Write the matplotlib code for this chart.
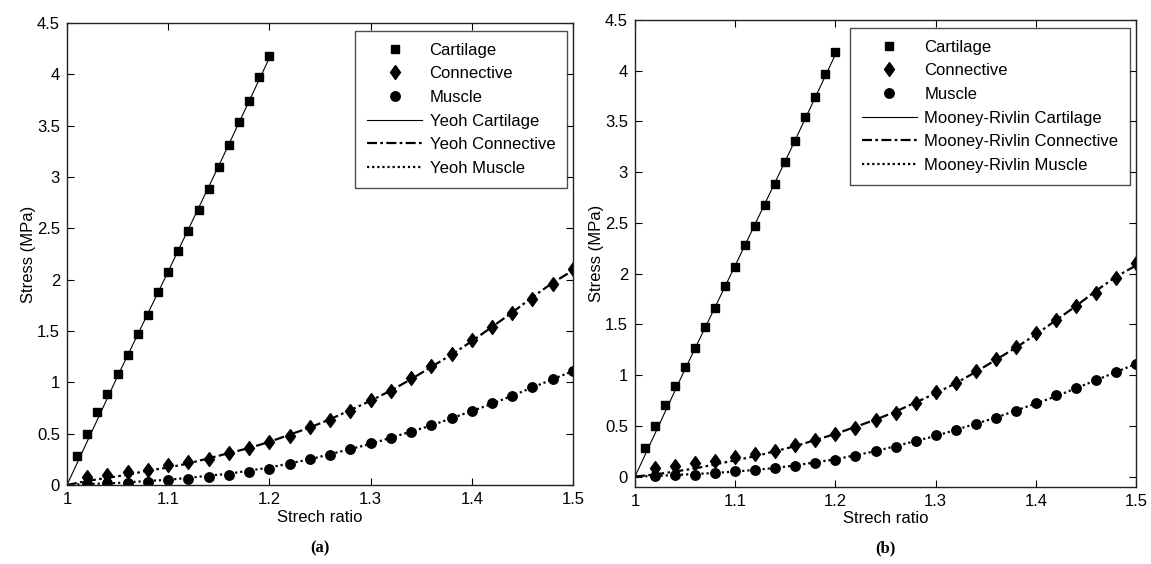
import numpy as np
import matplotlib
matplotlib.use("Agg")
import matplotlib.pyplot as plt
from matplotlib.ticker import FuncFormatter

plt.rcParams['font.family'] = ['Liberation Sans', 'DejaVu Sans']

# experimental data (same in both panels)
cart_x = [1.01, 1.02, 1.03, 1.04, 1.05, 1.06, 1.07, 1.08, 1.09, 1.10,
          1.11, 1.12, 1.13, 1.14, 1.15, 1.16, 1.17, 1.18, 1.19, 1.20]
cart_y = [0.28, 0.50, 0.71, 0.89, 1.08, 1.27, 1.47, 1.66, 1.88, 2.07,
          2.28, 2.47, 2.68, 2.88, 3.10, 3.31, 3.54, 3.74, 3.97, 4.18]

tis_x = [1.02, 1.04, 1.06, 1.08, 1.10, 1.12, 1.14, 1.16, 1.18, 1.20, 1.22, 1.24, 1.26,
         1.28, 1.30, 1.32, 1.34, 1.36, 1.38, 1.40, 1.42, 1.44, 1.46, 1.48, 1.50]
conn_y = [0.08, 0.10, 0.13, 0.15, 0.19, 0.22, 0.25, 0.31, 0.36, 0.42, 0.48, 0.56, 0.63,
          0.72, 0.83, 0.92, 1.04, 1.16, 1.28, 1.41, 1.54, 1.68, 1.81, 1.96, 2.10]
musc_y = [0.01, 0.02, 0.02, 0.03, 0.05, 0.06, 0.08, 0.10, 0.13, 0.16, 0.20, 0.25, 0.29,
          0.35, 0.41, 0.46, 0.52, 0.58, 0.65, 0.72, 0.80, 0.87, 0.95, 1.03, 1.11]

# fitted curves
fit_cx = [1.00, 1.05, 1.10, 1.15, 1.20]
fit_c = [0.0, 1.06, 2.08, 3.11, 4.16]

fit_x = [1.00, 1.02, 1.04, 1.06, 1.08, 1.10, 1.12, 1.14, 1.16, 1.18, 1.20, 1.22, 1.24, 1.26,
         1.28, 1.30, 1.32, 1.34, 1.36, 1.38, 1.40, 1.42, 1.44, 1.46, 1.48, 1.50]
yeoh_conn = [0.0, 0.04, 0.07, 0.10, 0.14, 0.17, 0.21, 0.26, 0.31, 0.36, 0.42, 0.49, 0.56,
             0.64, 0.73, 0.82, 0.92, 1.03, 1.15, 1.27, 1.40, 1.54, 1.68, 1.83, 1.97, 2.09]
yeoh_musc = [0.0, 0.01, 0.015, 0.025, 0.04, 0.05, 0.07, 0.09, 0.11, 0.14, 0.17, 0.21, 0.25,
             0.30, 0.35, 0.40, 0.46, 0.52, 0.58, 0.65, 0.72, 0.79, 0.87, 0.95, 1.03, 1.11]
mr_conn = [0.0, 0.02, 0.05, 0.08, 0.12, 0.16, 0.20, 0.25, 0.30, 0.36, 0.42, 0.49, 0.56,
           0.64, 0.73, 0.82, 0.92, 1.03, 1.15, 1.27, 1.40, 1.54, 1.68, 1.83, 1.97, 2.08]
mr_musc = [0.0, 0.005, 0.015, 0.025, 0.035, 0.05, 0.065, 0.085, 0.11, 0.14, 0.17, 0.21, 0.25,
           0.30, 0.35, 0.40, 0.46, 0.52, 0.58, 0.65, 0.72, 0.79, 0.87, 0.95, 1.03, 1.11]

panels = [
    ("Yeoh", yeoh_conn, yeoh_musc, (0.0, 4.5), [0.0582, 0.1401, 0.4396, 0.8191], "(a)"),
    ("Mooney-Rivlin", mr_conn, mr_musc, (-0.1, 4.5), [0.5517, 0.1371, 0.4353, 0.8274], "(b)"),
]

# MATLAB-style diamond (wider than matplotlib's 'd')
diamond = [(0, 1), (0.72, 0), (0, -1), (-0.72, 0), (0, 1)]

FS = 12
fig = plt.figure(figsize=(11.51, 5.64), dpi=100)

for model, fconn, fmusc, ylim, pos, tag in panels:
    ax = fig.add_axes(pos)
    ax.plot(cart_x, cart_y, 's', color='black', markersize=5.8, label='Cartilage')
    ax.plot(tis_x, conn_y, marker=diamond, linestyle='none', color='black',
            markersize=10, label='Connective')
    ax.plot(tis_x, musc_y, 'o', color='black', markersize=6.8, label='Muscle')
    ax.plot(fit_cx, fit_c, '-', color='black', lw=0.8, label=model + ' Cartilage')
    ax.plot(fit_x, fconn, color='black', lw=1.6, linestyle=(0, (4.5, 1.5, 1.2, 1.5)),
            label=model + ' Connective')
    ax.plot(fit_x, fmusc, color='black', lw=1.6, linestyle=(0, (1, 1.3)),
            label=model + ' Muscle')

    ax.set_xlim(1, 1.5)
    ax.set_ylim(*ylim)
    ax.set_xticks([1, 1.1, 1.2, 1.3, 1.4, 1.5])
    ax.set_yticks(np.arange(0, 4.51, 0.5))
    ax.xaxis.set_major_formatter(FuncFormatter(lambda v, p: '%g' % round(v, 2)))
    ax.yaxis.set_major_formatter(FuncFormatter(lambda v, p: '%g' % round(v, 2)))
    ax.tick_params(direction='in', top=True, right=True, length=5, width=0.8,
                   labelsize=FS, pad=5)
    for sp in ax.spines.values():
        sp.set_linewidth(1.0)
        sp.set_color('#222222')
    ax.set_xlabel('Strech ratio', fontsize=FS, labelpad=2)
    ax.set_ylabel('Stress (MPa)', fontsize=FS, labelpad=1)

    leg = ax.legend(loc='upper right', bbox_to_anchor=(0.988, 0.983), borderaxespad=0,
                    fontsize=FS, frameon=True, fancybox=False, handlelength=3.3,
                    handletextpad=0.45, labelspacing=0.52, borderpad=0.7)
    leg.get_frame().set_edgecolor('#222222')
    leg.get_frame().set_linewidth(1.0)

    cx = pos[0] + pos[2] / 2
    fig.text(cx, 1 - 548 / 564, tag, ha='center', va='center', fontsize=12,
             fontweight='bold', family='Liberation Serif')

fig.savefig('out.png', dpi=100)
